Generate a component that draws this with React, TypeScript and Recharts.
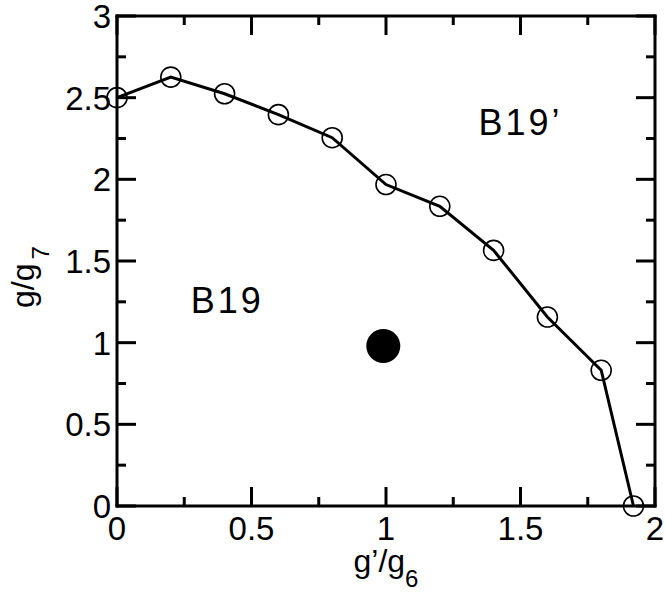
import React from "react";
import { ComposedChart, Line, Scatter, XAxis, YAxis } from "recharts";

// g'/g6 vs g/g7 phase boundary between B19 and B19'
const boundaryG6 = [0, 0.2, 0.4, 0.6, 0.8, 1.0, 1.2, 1.4, 1.6, 1.8, 1.92];
const boundaryG7 = [2.5, 2.626, 2.524, 2.396, 2.255, 1.968, 1.835, 1.565, 1.157, 0.831, 0];

// the single filled point
const markG6 = [0.99];
const markG7 = [0.98];

// region names
const regionNames = ["B19\u2019", "B19"];
const regionG6 = [1.5, 0.41];
const regionG7 = [2.27, 1.18];

const xTicks = [0, 0.25, 0.5, 0.75, 1, 1.25, 1.5, 1.75, 2];
const yTicks = [0, 0.25, 0.5, 0.75, 1, 1.25, 1.5, 1.75, 2, 2.25, 2.5, 2.75, 3];

const FONT = '"Liberation Sans", Arial, Helvetica, sans-serif';
const W = 665;
const H = 592;
const LEFT = 117;
const TOP = 16;
const RIGHT = 10;
const BOTTOM = 86;
const MAJOR = 19;
const MINOR = 9;

const boundaryData = boundaryG6.map((x, i) => ({ x, y: boundaryG7[i] }));
const markData = markG6.map((x, i) => ({ x, y: markG7[i] }));
const regionData = regionNames.map((name, i) => ({ x: regionG6[i], y: regionG7[i], name }));

const isMajor = (v: number) => Math.abs(v * 2 - Math.round(v * 2)) < 1e-6;
const fmt = (v: number) => String(Math.round(v * 10) / 10);

// tick renderers: ticks point inward, labels only on bottom/left majors
function BottomTick({ x, y, payload }: any) {
  const len = isMajor(payload.value) ? MAJOR : MINOR;
  return (
    <g>
      <line x1={x} x2={x} y1={y} y2={y - len} stroke="#000" strokeWidth={3} />
      {isMajor(payload.value) && (
        <text x={x} y={y + 34} textAnchor="middle" fontSize={33} fontFamily={FONT} fill="#000">
          {fmt(payload.value)}
        </text>
      )}
    </g>
  );
}

function TopTick({ x, y, payload }: any) {
  const len = isMajor(payload.value) ? MAJOR : MINOR;
  return <line x1={x} x2={x} y1={y} y2={y + len} stroke="#000" strokeWidth={3} />;
}

function LeftTick({ x, y, payload }: any) {
  const len = isMajor(payload.value) ? MAJOR : MINOR;
  return (
    <g>
      <line x1={x} x2={x + len} y1={y} y2={y} stroke="#000" strokeWidth={3} />
      {isMajor(payload.value) && (
        <text x={x - 6} y={y + 12} textAnchor="end" fontSize={33} fontFamily={FONT} fill="#000">
          {fmt(payload.value)}
        </text>
      )}
    </g>
  );
}

function RightTick({ x, y, payload }: any) {
  const len = isMajor(payload.value) ? MAJOR : MINOR;
  return <line x1={x} x2={x - len} y1={y} y2={y} stroke="#000" strokeWidth={3} />;
}

function XTitle() {
  const cx = LEFT + (W - LEFT - RIGHT) / 2;
  return (
    <text x={cx} y={572} textAnchor="middle" fontSize={32} fontFamily={FONT} fill="#000">
      g{"\u2019"}/g
      <tspan fontSize={24} dy={15}>6</tspan>
    </text>
  );
}

function YTitle() {
  return (
    <text
      x={0}
      y={0}
      transform="translate(34, 308) rotate(-90)"
      textAnchor="start"
      fontSize={32}
      fontFamily={FONT}
      fill="#000"
    >
      g/g
      <tspan fontSize={24} dy={15} dx={4}>7</tspan>
    </text>
  );
}

const RegionText = (props: any) => (
  <text
    x={props.cx}
    y={props.cy}
    textAnchor="middle"
    fontSize={36}
    letterSpacing={3}
    fontFamily={FONT}
    fill="#000"
  >
    {props.payload.name}
  </text>
);

const FilledDot = (props: any) => <circle cx={props.cx} cy={props.cy} r={17} fill="#000" />;

const axisLine = { stroke: "#000", strokeWidth: 3, strokeLinecap: "square" as const };

export default function App() {
  return (
    <div style={{ position: "absolute", left: 0, top: 0, width: W, height: H, background: "#fff" }}>
      <ComposedChart
        width={W}
        height={H}
        margin={{ top: TOP - 1, right: RIGHT - 1, bottom: 0, left: 0 }}
      >
        <XAxis
          xAxisId={0}
          type="number"
          dataKey="x"
          domain={[0, 2]}
          ticks={xTicks}
          interval={0}
          height={BOTTOM}
          tickSize={0}
          tickMargin={0}
          tick={BottomTick}
          axisLine={axisLine}
          label={XTitle}
        />
        <XAxis
          xAxisId="top"
          orientation="top"
          type="number"
          dataKey="x"
          domain={[0, 2]}
          ticks={xTicks}
          interval={0}
          height={1}
          tickSize={0}
          tickMargin={0}
          tick={TopTick}
          axisLine={axisLine}
        />
        <YAxis
          yAxisId={0}
          type="number"
          dataKey="y"
          domain={[0, 3]}
          ticks={yTicks}
          interval={0}
          width={LEFT}
          tickSize={0}
          tickMargin={0}
          tick={LeftTick}
          axisLine={axisLine}
          label={YTitle}
        />
        <YAxis
          yAxisId="right"
          orientation="right"
          type="number"
          dataKey="y"
          domain={[0, 3]}
          ticks={yTicks}
          interval={0}
          width={1}
          tickSize={0}
          tickMargin={0}
          tick={RightTick}
          axisLine={axisLine}
        />
        <Line
          data={boundaryData}
          dataKey="y"
          type="linear"
          stroke="#000"
          strokeWidth={3}
          dot={{ r: 10, fill: "none", stroke: "#000", strokeWidth: 1.6 }}
          activeDot={false}
          isAnimationActive={false}
        />
        <Scatter data={markData} dataKey="y" shape={FilledDot} isAnimationActive={false} />
        <Scatter
          data={regionData}
          dataKey="y"
          xAxisId="top"
          yAxisId="right"
          shape={RegionText}
          isAnimationActive={false}
        />
      </ComposedChart>
    </div>
  );
}
